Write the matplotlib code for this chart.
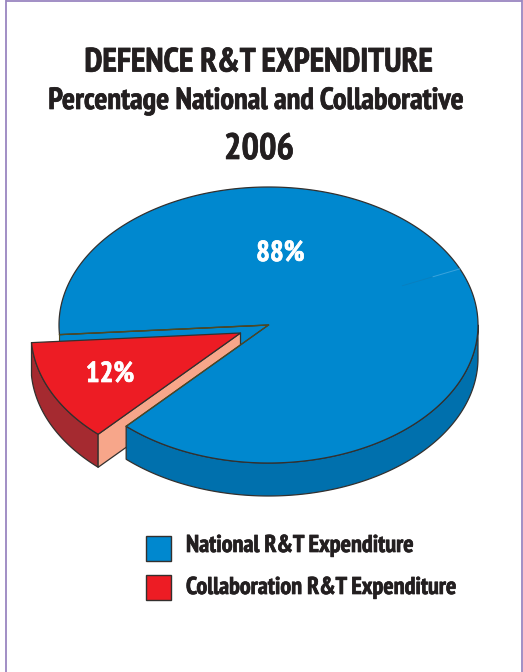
import numpy as np
import matplotlib
matplotlib.use("Agg")
import matplotlib.pyplot as plt
import matplotlib.patheffects as pe
from matplotlib.patches import Polygon, Rectangle

categories = ["National R&T Expenditure", "Collaboration R&T Expenditure"]
shares = [88, 12]
share_labels = ["88%", "12%"]
title_lines = ["DEFENCE R&T EXPENDITURE", "Percentage National and Collaborative", "2006"]

BLUE_TOP = "#0088cf"
BLUE_SIDE = "#0070ad"
RED_TOP = "#ed1c24"
RED_SIDE = "#a52a30"
SALMON = "#f7a68a"
EDGE = "#33302e"
OLIVE = "#4f4a22"
FRAME = "#9a86c0"
INK = "#231f20"

plt.rcParams["font.family"] = ["PT Sans Narrow", "Liberation Sans", "DejaVu Sans"]

fig = plt.figure(figsize=(5.23, 6.72), dpi=100, facecolor="white")
ax = fig.add_axes([0, 0, 1, 1])
ax.set_xlim(0, 523)
ax.set_ylim(672, 0)
ax.axis("off")

# Pie geometry on the page
cx, cy = 268.5, 325.0
rx, ry = 209.5, 138.0
depth = 33.0
offset = np.array([-28.0, 8.0])
start_deg = 184.0


def rim(a0, a1, shift=(0.0, 0.0), drop=0.0, n=200):
    t = np.radians(np.linspace(a0, a1, n))
    return np.column_stack([cx + shift[0] + rx * np.cos(t),
                            cy + shift[1] - ry * np.sin(t) + drop])


def poly(points, fc, ec=EDGE, lw=0.9, z=1):
    ax.add_patch(Polygon(points, closed=True, facecolor=fc, edgecolor=ec,
                         linewidth=lw, joinstyle="round", zorder=z))


def label(x, y, s, size, colour=INK, ha="center", z=8):
    # A hairline outline gives the narrow bold face a heavier colour
    t = ax.text(x, y, s, ha=ha, va="center", fontsize=size, fontweight="bold", color=colour, zorder=z)
    t.set_path_effects([pe.withStroke(linewidth=0.5, foreground=colour)])


centre = np.array([cx, cy])
sweep = 360.0 * shares[1] / sum(shares)
red0, red1 = start_deg, start_deg + sweep
blue0, blue1 = red1, red0 + 360.0

# Cut face of the large slice, seen behind the pulled-out wedge
back_edge = rim(red0, red0, n=1)[0]
poly([centre, back_edge, back_edge + [0, depth], centre + [0, depth]], BLUE_TOP, ec=OLIVE, lw=0.8, z=1)

# Pulled-out wedge: outer wall, cut wall, top
red_arc = rim(red0, red1, shift=offset)
poly(np.vstack([red_arc, rim(red1, red0, shift=offset, drop=depth)]), RED_SIDE, z=2)
apex = centre + offset
red_end = red_arc[-1]
poly([apex, red_end, red_end + [0, depth], apex + [0, depth]], SALMON, z=2)
poly(np.vstack([[apex], red_arc]), RED_TOP, z=3)

# Large slice: outer wall then top
poly(np.vstack([rim(blue0, 360.0), rim(360.0, blue0, drop=depth)]), BLUE_SIDE, z=4)
poly(np.vstack([[centre], rim(blue0, blue1, n=600)]), BLUE_TOP, ec=EDGE, lw=0.9, z=5)

# Olive hairlines along the cut of the large slice
blue_end = rim(blue0, blue0, n=1)[0]
ax.plot([cx, blue_end[0]], [cy, blue_end[1]], color=OLIVE, lw=0.8, zorder=6)
ax.plot([cx, back_edge[0]], [cy, back_edge[1]], color=OLIVE, lw=1.0, zorder=6)

# Faint seam on the top surface
seam = rim(24, 24, n=1)[0]
ax.plot([cx + (seam[0] - cx) * 0.70, cx + (seam[0] - cx) * 0.86],
        [cy + (seam[1] - cy) * 0.70, cy + (seam[1] - cy) * 0.86],
        color="#0a7fbe", lw=0.6, zorder=6)
ax.plot([cx + (seam[0] - cx) * 0.86, seam[0]],
        [cy + (seam[1] - cy) * 0.86, seam[1]],
        color="#3aa3dc", lw=0.7, zorder=6)

# Page frame
for xs, ys in [([6, 6], [0, 672]), ([521.5, 521.5], [0, 672]), ([6, 521.5], [1.2, 1.2])]:
    ax.plot(xs, ys, color=FRAME, lw=1.3, zorder=1, solid_capstyle="butt")

# Headings
label(258.5, 62.5, title_lines[0], 24.2)
label(255.5, 101, title_lines[1], 22)
label(259, 149.5, title_lines[2], 26.4)

# Share labels
label(280.5, 254, share_labels[0], 20.8, colour="white")
label(110, 375, share_labels[1], 20.8, colour="white")

# Key
for y, ty, colour, name in zip([535.5, 574.5], [546.5, 588.5], [BLUE_TOP, RED_TOP], categories):
    ax.add_patch(Rectangle((145.5, y), 25, 25, facecolor=colour, edgecolor=EDGE, linewidth=1.0, zorder=3))
    label(186, ty, name, 17.5, ha="left")

fig.savefig("out.png", dpi=100, facecolor="white")
